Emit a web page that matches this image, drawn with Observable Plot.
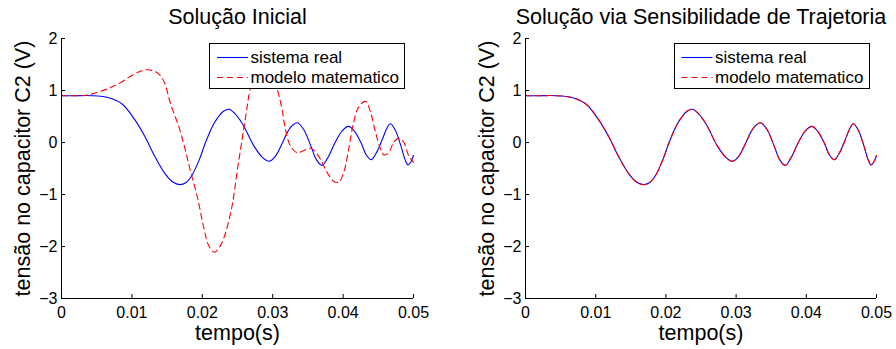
<!DOCTYPE html>
<html><head><meta charset="utf-8">
<script src="https://cdn.jsdelivr.net/npm/d3@7"></script>
<script src="https://cdn.jsdelivr.net/npm/@observablehq/plot@0.6"></script>
<style>
body{margin:0;background:#fff;font-family:"Liberation Sans",Arial,sans-serif;}
#fig{position:relative;width:896px;height:349px;overflow:hidden;background:#fff}
.panel{position:absolute;top:0;width:448px;height:349px}
.legend{position:absolute;background:#fff;border:1px solid #000;box-sizing:border-box;font-size:17px;color:#000;z-index:2}
.legend svg{position:absolute;left:0;top:0}
.legend .lbl{position:absolute;white-space:nowrap;line-height:20px;height:20px}
</style></head>
<body><div id="fig"></div>
<script>
// ---- data ----
const tempoReal = [0, 0.0020, 0.0043, 0.0067, 0.0086, 0.0105, 0.0119, 0.0133, 0.0147, 0.0158, 0.0168, 0.0177, 0.0185, 0.0196, 0.0204, 0.0214, 0.0221, 0.0230, 0.0238, 0.0246, 0.0257, 0.0273, 0.0285, 0.0295, 0.0304, 0.0313, 0.0321, 0.0328, 0.0335, 0.0344, 0.0354, 0.0362, 0.0370, 0.0378, 0.0389, 0.0399, 0.0408, 0.0416, 0.0425, 0.0433, 0.0440, 0.0448, 0.0456, 0.0462, 0.0467, 0.0474, 0.0482, 0.0488, 0.0492, 0.0496, 0.0500];
const sistemaReal = [0.90, 0.90, 0.90, 0.86, 0.74, 0.42, 0.10, -0.28, -0.60, -0.76, -0.81, -0.77, -0.64, -0.32, -0.02, 0.30, 0.46, 0.60, 0.64, 0.56, 0.36, -0.06, -0.28, -0.36, -0.26, -0.03, 0.20, 0.33, 0.38, 0.25, -0.06, -0.33, -0.44, -0.30, 0.01, 0.23, 0.31, 0.22, 0.01, -0.24, -0.33, -0.18, 0.07, 0.27, 0.36, 0.24, -0.06, -0.33, -0.43, -0.38, -0.25];

const tempoModelo = [0, 0.0020, 0.0035, 0.0045, 0.0057, 0.0070, 0.0081, 0.0100, 0.0112, 0.0121, 0.0130, 0.0138, 0.0146, 0.0155, 0.0167, 0.0176, 0.0183, 0.0193, 0.0202, 0.0209, 0.0217, 0.0224, 0.0231, 0.0242, 0.0250, 0.0257, 0.0263, 0.02675, 0.0277, 0.0287, 0.0297, 0.0307, 0.03135, 0.0318, 0.0325, 0.0335, 0.0342, 0.0354, 0.0363, 0.0370, 0.0377, 0.0387, 0.0394, 0.0401, 0.0408, 0.0415, 0.0422, 0.0432, 0.0439, 0.0446, 0.0453, 0.0458, 0.0465, 0.0472, 0.0479, 0.0486, 0.0493, 0.0500];
const modeloInicial = [0.90, 0.90, 0.91, 0.94, 0.99, 1.06, 1.13, 1.29, 1.37, 1.40, 1.38, 1.32, 1.16, 0.74, 0.29, -0.15, -0.54, -1.05, -1.63, -1.98, -2.11, -2.02, -1.82, -1.24, -0.51, 0.10, 0.62, 1.00, 1.45, 1.60, 1.42, 1.00, 0.62, 0.26, -0.06, -0.20, -0.17, -0.11, -0.22, -0.38, -0.57, -0.75, -0.76, -0.57, -0.12, 0.39, 0.68, 0.79, 0.58, 0.20, -0.12, -0.24, -0.19, 0.01, 0.08, 0.01, -0.25, -0.38];

// the trajectory-sensitivity model coincides with the real system
const tempoSensibilidade = tempoReal.slice();
const modeloSensibilidade = sistemaReal.slice();

const xTicks = [0, 0.01, 0.02, 0.03, 0.04, 0.05];
const yTicks = [-3, -2, -1, 0, 1, 2];
const titulos = ["Solução Inicial", "Solução via Sensibilidade de Trajetoria"];
const rotuloX = "tempo(s)";
const rotuloY = "tensão no capacitor C2 (V)";
const legenda = ["sistema real", "modelo matematico"];

const FONT = '"Liberation Sans", Arial, Helvetica, sans-serif';

function painel({title, mL, mR, tR, vR, tM, vM}) {
  const real = tR.map((t, i) => ({t, v: vR[i]}));
  const modelo = tM.map((t, i) => ({t, v: vM[i]}));
  return Plot.plot({
    width: 448, height: 349,
    marginLeft: mL, marginRight: mR, marginTop: 38, marginBottom: 51,
    style: {fontFamily: FONT, background: "#fff", color: "#000", overflow: "visible"},
    x: {domain: [0, 0.05]},
    y: {domain: [-3, 2]},
    marks: [
      Plot.line(real, {x: "t", y: "v", stroke: "#0000ff", strokeWidth: 1.1, curve: "catmull-rom"}),
      Plot.line(modelo, {x: "t", y: "v", stroke: "#ff0000", strokeWidth: 1.1, strokeDasharray: "6,4", curve: "catmull-rom"}),
      Plot.ruleY([-3], {stroke: "#000", strokeWidth: 1}),
      Plot.ruleX([0], {stroke: "#000", strokeWidth: 1}),
      Plot.axisX(xTicks, {tickSize: -4, tickPadding: 12.5, fontSize: 16, label: null, tickFormat: d => String(d)}),
      Plot.axisY(yTicks, {tickSize: -4, tickPadding: 8, fontSize: 16, label: null, tickFormat: d => d < 0 ? "\u2212" + Math.abs(d) : String(d)}),
      Plot.text([title], {frameAnchor: "top", dy: -21.5, fontSize: 21.5, textAnchor: "middle", lineAnchor: "middle"}),
      Plot.text([rotuloX], {frameAnchor: "bottom", dy: 34.5, fontSize: 21.5, textAnchor: "middle", lineAnchor: "middle"}),
      Plot.text([rotuloY], {frameAnchor: "left", dx: -38.5, rotate: -90, fontSize: 21.5, textAnchor: "middle", lineAnchor: "middle"})
    ]
  });
}

function caixaLegenda(left, sampleLeft) {
  const box = document.createElement("div");
  box.className = "legend";
  box.style.left = left + "px";
  box.style.top = "43px";
  box.style.width = "196px";
  box.style.height = "46px";
  const ns = "http://www.w3.org/2000/svg";
  const svg = document.createElementNS(ns, "svg");
  svg.setAttribute("width", 194); svg.setAttribute("height", 44);
  const estilos = [{stroke: "#0000ff", dash: null, y: 13.5}, {stroke: "#ff0000", dash: "6,4", y: 33.5}];
  estilos.forEach(s => {
    const l = document.createElementNS(ns, "line");
    l.setAttribute("x1", sampleLeft); l.setAttribute("x2", sampleLeft + 31);
    l.setAttribute("y1", s.y); l.setAttribute("y2", s.y);
    l.setAttribute("stroke", s.stroke); l.setAttribute("stroke-width", 1.1);
    if (s.dash) l.setAttribute("stroke-dasharray", s.dash);
    svg.appendChild(l);
  });
  box.appendChild(svg);
  legenda.forEach((txt, i) => {
    const sp = document.createElement("span");
    sp.className = "lbl";
    sp.textContent = txt;
    sp.style.left = (sampleLeft + 34) + "px";
    sp.style.top = (i === 0 ? 3.5 : 23.5) + "px";
    box.appendChild(sp);
  });
  return box;
}

const fig = document.getElementById("fig");
const specs = [
  {title: titulos[0], mL: 61, mR: 35, tR: tempoReal, vR: sistemaReal, tM: tempoModelo, vM: modeloInicial, legLeft: 208.5, sample: 7},
  {title: titulos[1], mL: 77, mR: 20, tR: tempoReal, vR: sistemaReal, tM: tempoSensibilidade, vM: modeloSensibilidade, legLeft: 225.5, sample: 6.5}
];
specs.forEach((s, k) => {
  const p = document.createElement("div");
  p.className = "panel";
  p.style.left = (k * 448) + "px";
  p.appendChild(painel(s));
  p.appendChild(caixaLegenda(s.legLeft, s.sample));
  fig.appendChild(p);
});
</script>
</body></html>
